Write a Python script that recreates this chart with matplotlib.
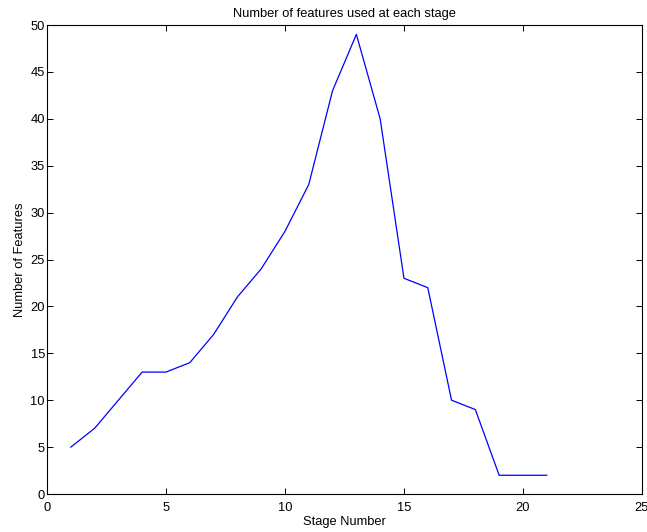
import matplotlib
matplotlib.use("Agg")
import matplotlib.pyplot as plt

stage = list(range(1, 22))
n_features = [5, 7, 10, 13, 13, 14, 17, 21, 24, 28, 33, 43, 49, 40, 23, 22, 10, 9, 2, 2, 2]
x_ticks = [0, 5, 10, 15, 20, 25]
y_ticks = [0, 5, 10, 15, 20, 25, 30, 35, 40, 45, 50]

plt.rcParams["font.family"] = ["Liberation Sans", "DejaVu Sans"]
plt.rcParams["font.size"] = 9.3

fig = plt.figure(figsize=(6.47, 5.32), dpi=100)
# axes box: 47..642 px wide, 25..494 px tall
ax = fig.add_axes([0.0726, 0.0714, 0.9196, 0.8816])
ax.plot(stage, n_features, color="#0000ff", linewidth=0.9)

ax.set_xlim(0, 25)
ax.set_ylim(0, 50)
ax.set_xticks(x_ticks)
ax.set_yticks(y_ticks)
ax.tick_params(direction="in", top=True, right=True, length=4.3, width=0.7)
ax.tick_params(axis="x", pad=6)
ax.tick_params(axis="y", pad=1.5)
for s in ax.spines.values():
    s.set_linewidth(0.8)

ax.set_title("Number of features used at each stage", fontsize=9.3, pad=6)
ax.set_xlabel("Stage Number", labelpad=1)
ax.set_ylabel("Number of Features", labelpad=3)

fig.savefig("out.png", dpi=100)
